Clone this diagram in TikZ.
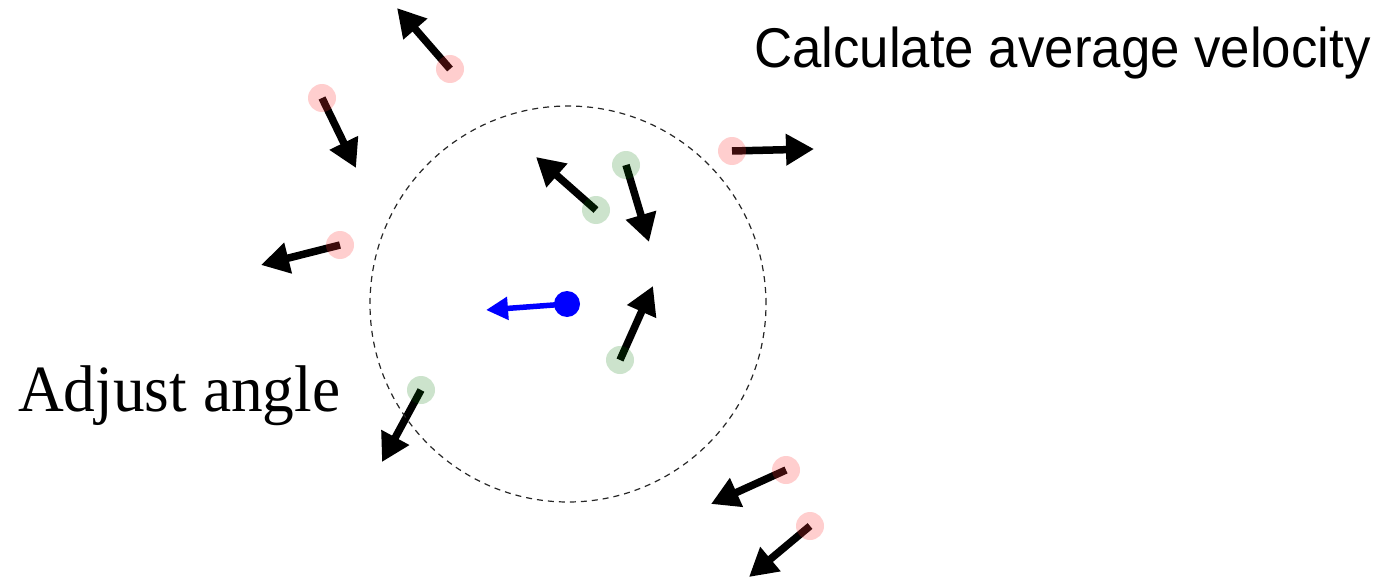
\documentclass[tikz,border=0pt]{standalone}
\usepackage{fontspec}
\setmainfont{Liberation Serif}
\newfontfamily\arialfont{Liberation Sans}
\usetikzlibrary{arrows.meta}
\pgfdeclarelayer{bg}
\pgfsetlayers{bg,main}
\tikzset{
  reddot/.style={circle, inner sep=0pt, minimum size=28pt, fill=red!80!white, fill opacity=0.24},
  greendot/.style={circle, inner sep=0pt, minimum size=28pt, fill=green!45!black, fill opacity=0.2},
  bluedot/.style={circle, inner sep=0pt, minimum size=26pt, fill=blue},
  vec/.style={line width=7.5pt, black, -{Triangle[length=28pt,width=30pt]}},
  bluevec/.style={line width=5.5pt, blue, -{Triangle[length=22pt,width=22pt]}},
  zone/.style={draw=black!85, dash pattern=on 6pt off 5pt, line width=1.2pt},
}
\begin{document}
\begin{tikzpicture}[x=1pt,y=-1pt]
\useasboundingbox (0,0) rectangle (1393,578);
% neighbourhood
\node[circle, zone, minimum size=396pt, inner sep=0pt] (zone) at (568,304) {};
% particles
\node[reddot] (r1) at (450,69) {};
\node[reddot] (r2) at (322,98) {};
\node[reddot] (r3) at (340,245) {};
\node[reddot] (r4) at (732,151) {};
\node[reddot] (r5) at (786,470) {};
\node[reddot] (r6) at (810,526) {};
\node[greendot] (g1) at (596,210) {};
\node[greendot] (g2) at (626,165) {};
\node[greendot] (g3) at (620,360) {};
\node[greendot] (g4) at (421,390) {};
\node[bluedot] (b) at (567,304) {};
% arrow ends
\coordinate (r1e) at (397,8);
\coordinate (r2e) at (356,168);
\coordinate (r3e) at (261,265);
\coordinate (r4e) at (814,149);
\coordinate (r5e) at (711,504);
\coordinate (r6e) at (749,577);
\coordinate (g1e) at (536,157);
\coordinate (g2e) at (649,242);
\coordinate (g3e) at (653,286);
\coordinate (g4e) at (382,462);
\coordinate (be) at (486,310);
\begin{pgfonlayer}{bg}
\foreach \p in {r1,r2,r3,r4,r5,r6,g1,g2,g3,g4}
  \draw[vec] (\p.center) -- (\p e);
\end{pgfonlayer}
\draw[bluevec] (b.center) -- (be);
% labels
\node[anchor=base west, font=\arialfont\fontsize{56}{60}\selectfont, inner sep=0pt] (avg) at (754,68) {\scalebox{0.943}[1]{Calculate average velocity}};
\node[anchor=base west, font=\fontsize{66}{70}\selectfont, inner sep=0pt] (adj) at (18,411) {\scalebox{0.96}[1]{Adjust angle}};
\end{tikzpicture}
\end{document}
